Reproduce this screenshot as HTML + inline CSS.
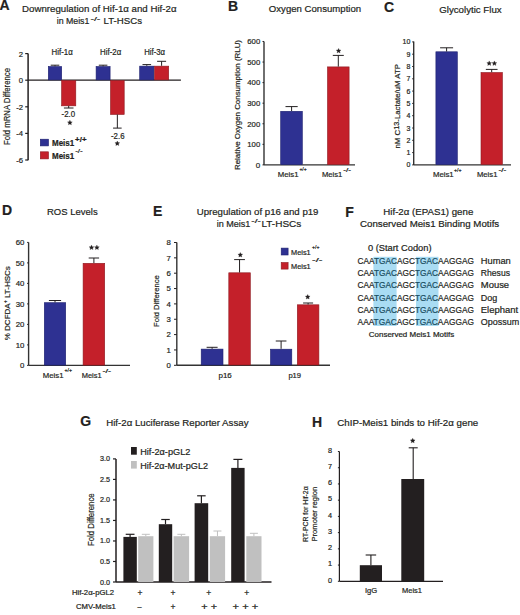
<!DOCTYPE html>
<html><head><meta charset="utf-8"><style>
html,body{margin:0;padding:0;background:#fff;}
svg{display:block;}
text{font-family:"Liberation Sans",sans-serif;stroke:#231f20;stroke-width:0.2px;paint-order:stroke;}
</style></head><body>
<svg width="520" height="615" viewBox="0 0 520 615">
<rect width="520" height="615" fill="#fff"/>
<text x="-0.45" y="10.2" font-size="14" font-weight="bold" fill="#231f20">A</text>
<text x="22" y="12.2" font-size="9.5" textLength="154.5" lengthAdjust="spacingAndGlyphs" fill="#231f20">Downregulation of Hif-1α and Hif-2α</text>
<text x="56.7" y="23.9" font-size="9.5" textLength="32.7" lengthAdjust="spacingAndGlyphs" fill="#231f20">in Meis1</text>
<text x="90.4" y="20.6" font-size="5.5" textLength="10" lengthAdjust="spacingAndGlyphs" fill="#231f20">-/-</text>
<text x="103.6" y="23.9" font-size="9.5" textLength="38.4" lengthAdjust="spacingAndGlyphs" fill="#231f20">LT-HSCs</text>
<line x1="28.1" y1="53.6" x2="28.1" y2="160.2" stroke="#231f20" stroke-width="1.5"/>
<line x1="25.2" y1="53.6" x2="28.1" y2="53.6" stroke="#231f20" stroke-width="1.2"/>
<text x="23" y="56.6" font-size="7.7" text-anchor="end" fill="#231f20">2</text>
<line x1="25.2" y1="80.2" x2="28.1" y2="80.2" stroke="#231f20" stroke-width="1.2"/>
<text x="23" y="83.2" font-size="7.7" text-anchor="end" fill="#231f20">0</text>
<line x1="25.2" y1="106.8" x2="28.1" y2="106.8" stroke="#231f20" stroke-width="1.2"/>
<text x="23" y="109.8" font-size="7.7" text-anchor="end" fill="#231f20">-2</text>
<line x1="25.2" y1="133.4" x2="28.1" y2="133.4" stroke="#231f20" stroke-width="1.2"/>
<text x="23" y="136.4" font-size="7.7" text-anchor="end" fill="#231f20">-4</text>
<line x1="25.2" y1="160.0" x2="28.1" y2="160.0" stroke="#231f20" stroke-width="1.2"/>
<text x="23" y="163.0" font-size="7.7" text-anchor="end" fill="#231f20">-6</text>
<line x1="28.1" y1="80.2" x2="180.9" y2="80.2" stroke="#231f20" stroke-width="1.3"/>
<rect x="48.3" y="66.53" width="13.4" height="13.37" fill="#2e3192" stroke="#1c1f6e" stroke-width="0.6"/>
<rect x="61.6" y="80.5" width="14.2" height="25.34" fill="#c4202a" stroke="#8e1a20" stroke-width="0.6"/>
<rect x="96.1" y="66.53" width="14.0" height="13.37" fill="#2e3192" stroke="#1c1f6e" stroke-width="0.6"/>
<rect x="110.5" y="80.5" width="13.7" height="33.98" fill="#c4202a" stroke="#8e1a20" stroke-width="0.6"/>
<rect x="139.7" y="66.14" width="14.2" height="13.76" fill="#2e3192" stroke="#1c1f6e" stroke-width="0.6"/>
<rect x="154.5" y="66.14" width="14.2" height="13.76" fill="#c4202a" stroke="#8e1a20" stroke-width="0.6"/>
<line x1="55.0" y1="66.3" x2="55.0" y2="65.2" stroke="#231f20" stroke-width="1.0"/>
<line x1="50.7" y1="65.2" x2="59.3" y2="65.2" stroke="#231f20" stroke-width="1.0"/>
<line x1="68.7" y1="105.9" x2="68.7" y2="108" stroke="#231f20" stroke-width="1.0"/>
<line x1="63.9" y1="108" x2="73.5" y2="108" stroke="#231f20" stroke-width="1.0"/>
<line x1="103.1" y1="66.3" x2="103.1" y2="65.2" stroke="#231f20" stroke-width="1.0"/>
<line x1="98.8" y1="65.2" x2="107.4" y2="65.2" stroke="#231f20" stroke-width="1.0"/>
<line x1="117.35" y1="114.5" x2="117.35" y2="128.1" stroke="#231f20" stroke-width="1.0"/>
<line x1="113.05" y1="128.1" x2="121.65" y2="128.1" stroke="#231f20" stroke-width="1.0"/>
<line x1="146.8" y1="65.8" x2="146.8" y2="64.6" stroke="#231f20" stroke-width="1.0"/>
<line x1="142.5" y1="64.6" x2="151.1" y2="64.6" stroke="#231f20" stroke-width="1.0"/>
<line x1="161.6" y1="65.8" x2="161.6" y2="61.3" stroke="#231f20" stroke-width="1.0"/>
<line x1="157.1" y1="61.3" x2="166.1" y2="61.3" stroke="#231f20" stroke-width="1.0"/>
<text x="51.6" y="55.1" font-size="8.3" textLength="21.2" lengthAdjust="spacingAndGlyphs" fill="#231f20" stroke-width="0.35">Hif-1α</text>
<text x="100" y="55.1" font-size="8.3" textLength="21.2" lengthAdjust="spacingAndGlyphs" fill="#231f20" stroke-width="0.35">Hif-2α</text>
<text x="144.2" y="55.4" font-size="8.3" textLength="20.9" lengthAdjust="spacingAndGlyphs" fill="#231f20" stroke-width="0.35">Hif-3α</text>
<text x="61.6" y="116.7" font-size="8.2" textLength="13.6" lengthAdjust="spacingAndGlyphs" fill="#231f20">-2.0</text>
<polygon points="69.90,120.20 70.61,121.73 72.28,121.93 71.04,123.07 71.37,124.72 69.90,123.90 68.43,124.72 68.76,123.07 67.52,121.93 69.19,121.73" fill="#231f20" stroke="#231f20" stroke-width="0.3"/>
<text x="111" y="138.6" font-size="8.2" textLength="13.5" lengthAdjust="spacingAndGlyphs" fill="#231f20">-2.6</text>
<polygon points="117.30,141.00 118.01,142.53 119.68,142.73 118.44,143.87 118.77,145.52 117.30,144.70 115.83,145.52 116.16,143.87 114.92,142.73 116.59,142.53" fill="#231f20" stroke="#231f20" stroke-width="0.3"/>
<rect x="40.3" y="139.2" width="8.2" height="6.7" fill="#2e3192" stroke="#1c1f6e" stroke-width="0.6"/>
<rect x="40.3" y="151.8" width="8.2" height="7.1" fill="#c4202a" stroke="#8e1a20" stroke-width="0.6"/>
<text x="52" y="145.8" font-size="8.3" font-weight="bold" textLength="22.2" lengthAdjust="spacingAndGlyphs" fill="#231f20">Meis1</text>
<text x="75.1" y="142.4" font-size="6.3" font-weight="bold" textLength="11.4" lengthAdjust="spacingAndGlyphs" fill="#231f20">+/+</text>
<text x="52" y="159.1" font-size="8.3" font-weight="bold" textLength="22.2" lengthAdjust="spacingAndGlyphs" fill="#231f20">Meis1</text>
<text x="75.2" y="153.2" font-size="5.5" textLength="7.6" lengthAdjust="spacingAndGlyphs" fill="#231f20">-/-</text>
<text transform="translate(10.2,106.5) rotate(-90)" x="0" y="0" font-size="8.5" stroke-width="0.08" text-anchor="middle" textLength="77" lengthAdjust="spacingAndGlyphs" fill="#231f20">Fold mRNA Difference</text>
<text x="227.9" y="10.8" font-size="14" font-weight="bold" fill="#231f20">B</text>
<text x="268.8" y="12.0" font-size="9.6" textLength="92.4" lengthAdjust="spacingAndGlyphs" fill="#231f20">Oxygen Consumption</text>
<line x1="264" y1="41.5" x2="264" y2="164.9" stroke="#333" stroke-width="1.4"/>
<line x1="262.5" y1="164.9" x2="264" y2="164.9" stroke="#231f20" stroke-width="1"/>
<text x="260.2" y="167.7" font-size="8" text-anchor="end" fill="#231f20">0</text>
<line x1="262.5" y1="144.33" x2="264" y2="144.33" stroke="#231f20" stroke-width="1"/>
<text x="260.2" y="147.13" font-size="8" text-anchor="end" textLength="12.9" lengthAdjust="spacingAndGlyphs" fill="#231f20">100</text>
<line x1="262.5" y1="123.76" x2="264" y2="123.76" stroke="#231f20" stroke-width="1"/>
<text x="260.2" y="126.56" font-size="8" text-anchor="end" textLength="12.9" lengthAdjust="spacingAndGlyphs" fill="#231f20">200</text>
<line x1="262.5" y1="103.19" x2="264" y2="103.19" stroke="#231f20" stroke-width="1"/>
<text x="260.2" y="105.99" font-size="8" text-anchor="end" textLength="12.9" lengthAdjust="spacingAndGlyphs" fill="#231f20">300</text>
<line x1="262.5" y1="82.62" x2="264" y2="82.62" stroke="#231f20" stroke-width="1"/>
<text x="260.2" y="85.42" font-size="8" text-anchor="end" textLength="12.9" lengthAdjust="spacingAndGlyphs" fill="#231f20">400</text>
<line x1="262.5" y1="62.05" x2="264" y2="62.05" stroke="#231f20" stroke-width="1"/>
<text x="260.2" y="64.85" font-size="8" text-anchor="end" textLength="12.9" lengthAdjust="spacingAndGlyphs" fill="#231f20">500</text>
<line x1="262.5" y1="41.48" x2="264" y2="41.48" stroke="#231f20" stroke-width="1"/>
<text x="260.2" y="44.28" font-size="8" text-anchor="end" textLength="12.9" lengthAdjust="spacingAndGlyphs" fill="#231f20">600</text>
<line x1="264" y1="164.9" x2="355" y2="164.9" stroke="#333" stroke-width="1.4"/>
<rect x="280.7" y="111.3" width="21.6" height="53.3" fill="#2e3192" stroke="#1c1f6e" stroke-width="0.6"/>
<line x1="291.6" y1="111" x2="291.6" y2="106.6" stroke="#231f20" stroke-width="1.0"/>
<line x1="285.5" y1="106.6" x2="297.7" y2="106.6" stroke="#231f20" stroke-width="1.0"/>
<rect x="327.5" y="66.9" width="21.6" height="97.7" fill="#c4202a" stroke="#8e1a20" stroke-width="0.6"/>
<line x1="338.3" y1="66.6" x2="338.3" y2="55.4" stroke="#231f20" stroke-width="1.0"/>
<line x1="332.8" y1="55.4" x2="343.8" y2="55.4" stroke="#231f20" stroke-width="1.0"/>
<polygon points="338.60,48.40 339.31,49.93 340.98,50.13 339.74,51.27 340.07,52.92 338.60,52.10 337.13,52.92 337.46,51.27 336.22,50.13 337.89,49.93" fill="#231f20" stroke="#231f20" stroke-width="0.3"/>
<text x="277.8" y="177.3" font-size="7.8" textLength="20.7" lengthAdjust="spacingAndGlyphs" fill="#231f20">Meis1</text>
<text x="299.4" y="171.3" font-size="4.6" textLength="7.3" lengthAdjust="spacingAndGlyphs" fill="#231f20">+/+</text>
<text x="321.9" y="177.3" font-size="7.8" textLength="20.4" lengthAdjust="spacingAndGlyphs" fill="#231f20">Meis1</text>
<text x="343.2" y="171.6" font-size="4.6" textLength="7.8" lengthAdjust="spacingAndGlyphs" fill="#231f20">-/-</text>
<text transform="translate(239.8,105) rotate(-90)" x="0" y="0" font-size="7.8" text-anchor="middle" textLength="130" lengthAdjust="spacingAndGlyphs" fill="#231f20">Relative Oxygen Consumption (RLU)</text>
<text x="384.1" y="11.6" font-size="14" font-weight="bold" fill="#231f20">C</text>
<text x="439.2" y="12.9" font-size="9.5" textLength="62.5" lengthAdjust="spacingAndGlyphs" fill="#231f20">Glycolytic Flux</text>
<line x1="413.7" y1="41.5" x2="413.7" y2="164.9" stroke="#333" stroke-width="1.4"/>
<line x1="412.2" y1="164.9" x2="413.7" y2="164.9" stroke="#231f20" stroke-width="1"/>
<text x="410.3" y="167.4" font-size="7" text-anchor="end" fill="#231f20">0</text>
<line x1="412.2" y1="152.6" x2="413.7" y2="152.6" stroke="#231f20" stroke-width="1"/>
<text x="410.3" y="155.1" font-size="7" text-anchor="end" fill="#231f20">1</text>
<line x1="412.2" y1="140.3" x2="413.7" y2="140.3" stroke="#231f20" stroke-width="1"/>
<text x="410.3" y="142.8" font-size="7" text-anchor="end" fill="#231f20">2</text>
<line x1="412.2" y1="128.0" x2="413.7" y2="128.0" stroke="#231f20" stroke-width="1"/>
<text x="410.3" y="130.5" font-size="7" text-anchor="end" fill="#231f20">3</text>
<line x1="412.2" y1="115.7" x2="413.7" y2="115.7" stroke="#231f20" stroke-width="1"/>
<text x="410.3" y="118.2" font-size="7" text-anchor="end" fill="#231f20">4</text>
<line x1="412.2" y1="103.4" x2="413.7" y2="103.4" stroke="#231f20" stroke-width="1"/>
<text x="410.3" y="105.9" font-size="7" text-anchor="end" fill="#231f20">5</text>
<line x1="412.2" y1="91.1" x2="413.7" y2="91.1" stroke="#231f20" stroke-width="1"/>
<text x="410.3" y="93.6" font-size="7" text-anchor="end" fill="#231f20">6</text>
<line x1="412.2" y1="78.8" x2="413.7" y2="78.8" stroke="#231f20" stroke-width="1"/>
<text x="410.3" y="81.3" font-size="7" text-anchor="end" fill="#231f20">7</text>
<line x1="412.2" y1="66.5" x2="413.7" y2="66.5" stroke="#231f20" stroke-width="1"/>
<text x="410.3" y="69.0" font-size="7" text-anchor="end" fill="#231f20">8</text>
<line x1="412.2" y1="54.2" x2="413.7" y2="54.2" stroke="#231f20" stroke-width="1"/>
<text x="410.3" y="56.7" font-size="7" text-anchor="end" fill="#231f20">9</text>
<line x1="412.2" y1="41.9" x2="413.7" y2="41.9" stroke="#231f20" stroke-width="1"/>
<text x="410.3" y="44.4" font-size="7" text-anchor="end" fill="#231f20">10</text>
<line x1="413.7" y1="164.9" x2="511" y2="164.9" stroke="#333" stroke-width="1.4"/>
<rect x="435.9" y="51.8" width="21.4" height="112.8" fill="#2e3192" stroke="#1c1f6e" stroke-width="0.6"/>
<line x1="446.6" y1="51.5" x2="446.6" y2="47.8" stroke="#231f20" stroke-width="1.0"/>
<line x1="440.1" y1="47.8" x2="453.1" y2="47.8" stroke="#231f20" stroke-width="1.0"/>
<rect x="481.0" y="72.5" width="21.4" height="92.1" fill="#c4202a" stroke="#8e1a20" stroke-width="0.6"/>
<line x1="491.7" y1="72.2" x2="491.7" y2="69.4" stroke="#231f20" stroke-width="1.0"/>
<line x1="485.85" y1="69.4" x2="497.55" y2="69.4" stroke="#231f20" stroke-width="1.0"/>
<polygon points="489.20,60.90 489.91,62.43 491.58,62.63 490.34,63.77 490.67,65.42 489.20,64.60 487.73,65.42 488.06,63.77 486.82,62.63 488.49,62.43" fill="#231f20" stroke="#231f20" stroke-width="0.3"/>
<polygon points="494.40,60.90 495.11,62.43 496.78,62.63 495.54,63.77 495.87,65.42 494.40,64.60 492.93,65.42 493.26,63.77 492.02,62.63 493.69,62.43" fill="#231f20" stroke="#231f20" stroke-width="0.3"/>
<text x="433" y="177.3" font-size="7.8" textLength="20.7" lengthAdjust="spacingAndGlyphs" fill="#231f20">Meis1</text>
<text x="454" y="171.5" font-size="4.6" textLength="7.6" lengthAdjust="spacingAndGlyphs" fill="#231f20">+/+</text>
<text x="477" y="177.3" font-size="7.8" textLength="20.4" lengthAdjust="spacingAndGlyphs" fill="#231f20">Meis1</text>
<text x="498.5" y="172" font-size="4.6" textLength="7.8" lengthAdjust="spacingAndGlyphs" fill="#231f20">-/-</text>
<text transform="translate(400.2,106.3) rotate(-90)" font-size="7.5" text-anchor="middle" textLength="84.5" lengthAdjust="spacingAndGlyphs" fill="#231f20">nM C<tspan font-size="7" dy="-1.6">13</tspan><tspan dy="1.6">-Lactate/uM ATP</tspan></text>
<text x="2.1" y="215.1" font-size="14" font-weight="bold" fill="#231f20">D</text>
<text x="47" y="214.7" font-size="9.8" textLength="50.7" lengthAdjust="spacingAndGlyphs" fill="#231f20">ROS Levels</text>
<line x1="28.6" y1="242.4" x2="28.6" y2="365.4" stroke="#333" stroke-width="1.4"/>
<line x1="27.1" y1="365.4" x2="28.6" y2="365.4" stroke="#231f20" stroke-width="1"/>
<text x="24.4" y="368.2" font-size="7.8" text-anchor="end" fill="#231f20">0</text>
<line x1="27.1" y1="344.9" x2="28.6" y2="344.9" stroke="#231f20" stroke-width="1"/>
<text x="24.4" y="347.7" font-size="7.8" text-anchor="end" fill="#231f20">10</text>
<line x1="27.1" y1="324.4" x2="28.6" y2="324.4" stroke="#231f20" stroke-width="1"/>
<text x="24.4" y="327.2" font-size="7.8" text-anchor="end" fill="#231f20">20</text>
<line x1="27.1" y1="303.9" x2="28.6" y2="303.9" stroke="#231f20" stroke-width="1"/>
<text x="24.4" y="306.7" font-size="7.8" text-anchor="end" fill="#231f20">30</text>
<line x1="27.1" y1="283.4" x2="28.6" y2="283.4" stroke="#231f20" stroke-width="1"/>
<text x="24.4" y="286.2" font-size="7.8" text-anchor="end" fill="#231f20">40</text>
<line x1="27.1" y1="262.9" x2="28.6" y2="262.9" stroke="#231f20" stroke-width="1"/>
<text x="24.4" y="265.7" font-size="7.8" text-anchor="end" fill="#231f20">50</text>
<line x1="27.1" y1="242.4" x2="28.6" y2="242.4" stroke="#231f20" stroke-width="1"/>
<text x="24.4" y="245.2" font-size="7.8" text-anchor="end" fill="#231f20">60</text>
<line x1="28.6" y1="365.4" x2="130" y2="365.4" stroke="#333" stroke-width="1.4"/>
<rect x="44.3" y="302.7" width="21.4" height="62.4" fill="#2e3192" stroke="#1c1f6e" stroke-width="0.6"/>
<line x1="55" y1="302.4" x2="55" y2="300.5" stroke="#231f20" stroke-width="1.0"/>
<line x1="48.9" y1="300.5" x2="61.1" y2="300.5" stroke="#231f20" stroke-width="1.0"/>
<rect x="83.1" y="263.3" width="21.6" height="101.8" fill="#c4202a" stroke="#8e1a20" stroke-width="0.6"/>
<line x1="93.9" y1="263" x2="93.9" y2="258" stroke="#231f20" stroke-width="1.0"/>
<line x1="88.7" y1="258" x2="99.1" y2="258" stroke="#231f20" stroke-width="1.0"/>
<polygon points="91.50,245.10 92.21,246.63 93.88,246.83 92.64,247.97 92.97,249.62 91.50,248.80 90.03,249.62 90.36,247.97 89.12,246.83 90.79,246.63" fill="#231f20" stroke="#231f20" stroke-width="0.3"/>
<polygon points="96.90,245.10 97.61,246.63 99.28,246.83 98.04,247.97 98.37,249.62 96.90,248.80 95.43,249.62 95.76,247.97 94.52,246.83 96.19,246.63" fill="#231f20" stroke="#231f20" stroke-width="0.3"/>
<text x="42.8" y="377.6" font-size="7.8" textLength="20.7" lengthAdjust="spacingAndGlyphs" fill="#231f20">Meis1</text>
<text x="64.4" y="371.6" font-size="4.6" textLength="7.6" lengthAdjust="spacingAndGlyphs" fill="#231f20">+/+</text>
<text x="81.7" y="377.6" font-size="7.8" textLength="19.9" lengthAdjust="spacingAndGlyphs" fill="#231f20">Meis1</text>
<text x="102.5" y="372.5" font-size="4.6" textLength="8.6" lengthAdjust="spacingAndGlyphs" fill="#231f20">-/-</text>
<text transform="translate(9.8,303.2) rotate(-90)" font-size="7.7" text-anchor="middle" textLength="74.2" lengthAdjust="spacingAndGlyphs" fill="#231f20">% DCFDA<tspan font-size="5" dy="-3">+</tspan><tspan dy="3"> LT-HSCs</tspan></text>
<text x="153" y="215.8" font-size="14" font-weight="bold" fill="#231f20">E</text>
<text x="196.7" y="215" font-size="9.5" textLength="121.8" lengthAdjust="spacingAndGlyphs" fill="#231f20">Upregulation of p16 and p19</text>
<text x="216.7" y="227" font-size="9.5" textLength="33.7" lengthAdjust="spacingAndGlyphs" fill="#231f20">in Meis1</text>
<text x="251.3" y="223" font-size="4.8" textLength="9.5" lengthAdjust="spacingAndGlyphs" fill="#231f20">-/-</text>
<text x="261.5" y="227" font-size="9.5" textLength="39.8" lengthAdjust="spacingAndGlyphs" fill="#231f20">LT-HSCs</text>
<line x1="176.8" y1="242.5" x2="176.8" y2="365.3" stroke="#333" stroke-width="1.4"/>
<line x1="174.0" y1="365.3" x2="176.8" y2="365.3" stroke="#231f20" stroke-width="1"/>
<text x="170.9" y="368.1" font-size="7.8" text-anchor="end" fill="#231f20" stroke-width="0.05">0</text>
<line x1="174.0" y1="349.95" x2="176.8" y2="349.95" stroke="#231f20" stroke-width="1"/>
<text x="170.9" y="352.75" font-size="7.8" text-anchor="end" fill="#231f20" stroke-width="0.05">1</text>
<line x1="174.0" y1="334.6" x2="176.8" y2="334.6" stroke="#231f20" stroke-width="1"/>
<text x="170.9" y="337.4" font-size="7.8" text-anchor="end" fill="#231f20" stroke-width="0.05">2</text>
<line x1="174.0" y1="319.25" x2="176.8" y2="319.25" stroke="#231f20" stroke-width="1"/>
<text x="170.9" y="322.05" font-size="7.8" text-anchor="end" fill="#231f20" stroke-width="0.05">3</text>
<line x1="174.0" y1="303.9" x2="176.8" y2="303.9" stroke="#231f20" stroke-width="1"/>
<text x="170.9" y="306.7" font-size="7.8" text-anchor="end" fill="#231f20" stroke-width="0.05">4</text>
<line x1="174.0" y1="288.55" x2="176.8" y2="288.55" stroke="#231f20" stroke-width="1"/>
<text x="170.9" y="291.35" font-size="7.8" text-anchor="end" fill="#231f20" stroke-width="0.05">5</text>
<line x1="174.0" y1="273.2" x2="176.8" y2="273.2" stroke="#231f20" stroke-width="1"/>
<text x="170.9" y="276.0" font-size="7.8" text-anchor="end" fill="#231f20" stroke-width="0.05">6</text>
<line x1="174.0" y1="257.85" x2="176.8" y2="257.85" stroke="#231f20" stroke-width="1"/>
<text x="170.9" y="260.65" font-size="7.8" text-anchor="end" fill="#231f20" stroke-width="0.05">7</text>
<line x1="174.0" y1="242.5" x2="176.8" y2="242.5" stroke="#231f20" stroke-width="1"/>
<text x="170.9" y="245.3" font-size="7.8" text-anchor="end" fill="#231f20" stroke-width="0.05">8</text>
<line x1="176.8" y1="365.3" x2="330" y2="365.3" stroke="#333" stroke-width="1.4"/>
<rect x="201.2" y="349.1" width="21.8" height="15.9" fill="#2e3192" stroke="#1c1f6e" stroke-width="0.6"/>
<line x1="212.1" y1="348.8" x2="212.1" y2="347.3" stroke="#231f20" stroke-width="1.0"/>
<line x1="206.6" y1="347.3" x2="217.6" y2="347.3" stroke="#231f20" stroke-width="1.0"/>
<rect x="228.8" y="272.8" width="21.5" height="92.2" fill="#c4202a" stroke="#8e1a20" stroke-width="0.6"/>
<line x1="239.55" y1="272.5" x2="239.55" y2="259.6" stroke="#231f20" stroke-width="1.0"/>
<line x1="234.15" y1="259.6" x2="244.95" y2="259.6" stroke="#231f20" stroke-width="1.0"/>
<polygon points="240.30,252.50 241.01,254.03 242.68,254.23 241.44,255.37 241.77,257.02 240.30,256.20 238.83,257.02 239.16,255.37 237.92,254.23 239.59,254.03" fill="#231f20" stroke="#231f20" stroke-width="0.3"/>
<rect x="270.5" y="349.2" width="21.3" height="15.8" fill="#2e3192" stroke="#1c1f6e" stroke-width="0.6"/>
<line x1="281.1" y1="348.8" x2="281.1" y2="341" stroke="#231f20" stroke-width="1.0"/>
<line x1="275.75" y1="341" x2="286.45" y2="341" stroke="#231f20" stroke-width="1.0"/>
<rect x="297.3" y="304.8" width="21.6" height="60.2" fill="#c4202a" stroke="#8e1a20" stroke-width="0.6"/>
<line x1="308.1" y1="304.5" x2="308.1" y2="303" stroke="#231f20" stroke-width="1.0"/>
<line x1="303.1" y1="303" x2="313.1" y2="303" stroke="#231f20" stroke-width="1.0"/>
<polygon points="307.70,294.50 308.41,296.03 310.08,296.23 308.84,297.37 309.17,299.02 307.70,298.20 306.23,299.02 306.56,297.37 305.32,296.23 306.99,296.03" fill="#231f20" stroke="#231f20" stroke-width="0.3"/>
<text x="218.5" y="377.5" font-size="7.8" textLength="13.3" lengthAdjust="spacingAndGlyphs" fill="#231f20">p16</text>
<text x="288.4" y="377.5" font-size="7.8" textLength="12.7" lengthAdjust="spacingAndGlyphs" fill="#231f20">p19</text>
<rect x="281.2" y="248.1" width="6.9" height="6.9" fill="#2e3192" stroke="#1c1f6e" stroke-width="0.6"/>
<rect x="281.2" y="262.5" width="6.9" height="6.6" fill="#c4202a" stroke="#8e1a20" stroke-width="0.6"/>
<text x="291" y="255" font-size="7.8" textLength="19.7" lengthAdjust="spacingAndGlyphs" fill="#231f20" stroke-width="0.45">Meis1</text>
<text x="312.1" y="248.8" font-size="4.6" textLength="7.4" lengthAdjust="spacingAndGlyphs" fill="#231f20">+/+</text>
<text x="291" y="269.2" font-size="7.8" textLength="19.7" lengthAdjust="spacingAndGlyphs" fill="#231f20" stroke-width="0.45">Meis1</text>
<text x="312.1" y="262.2" font-size="4.6" textLength="10.3" lengthAdjust="spacingAndGlyphs" fill="#231f20">-/-</text>
<text transform="translate(159.3,301.1) rotate(-90)" x="0" y="0" font-size="8" text-anchor="middle" textLength="51.8" lengthAdjust="spacingAndGlyphs" fill="#231f20">Fold Difference</text>
<text x="345.3" y="216.8" font-size="14" font-weight="bold" fill="#231f20">F</text>
<text x="383.3" y="215.0" font-size="9.2" textLength="90" lengthAdjust="spacingAndGlyphs" fill="#231f20">Hif-2α (EPAS1) gene</text>
<text x="360" y="227.0" font-size="9.2" textLength="139.2" lengthAdjust="spacingAndGlyphs" fill="#231f20">Conserved Meis1 Binding Motifs</text>
<text x="368" y="251.2" font-size="8.5" textLength="63.5" lengthAdjust="spacingAndGlyphs" fill="#231f20">0 (Start Codon)</text>
<rect x="373.4" y="256.8" width="23.2" height="69.2" fill="#a9dcf3"/>
<rect x="416" y="256.8" width="22.5" height="69.2" fill="#a9dcf3"/>
<text x="357.6" y="263.7" font-size="9" textLength="116.3" lengthAdjust="spacingAndGlyphs" fill="#231f20" stroke-width="0.3">CAA<tspan fill="#174b5e" stroke="#174b5e">TGAC</tspan>AGC<tspan fill="#174b5e" stroke="#174b5e">TGAC</tspan>AAGGAG</text>
<text x="480.8" y="263.7" font-size="9" textLength="30" lengthAdjust="spacingAndGlyphs" fill="#231f20" stroke-width="0.3">Human</text>
<text x="357.6" y="276.0" font-size="9" textLength="116.3" lengthAdjust="spacingAndGlyphs" fill="#231f20" stroke-width="0.3">CAA<tspan fill="#174b5e" stroke="#174b5e">TGAC</tspan>AGC<tspan fill="#174b5e" stroke="#174b5e">TGAC</tspan>AAGGAG</text>
<text x="480.8" y="276.0" font-size="9" textLength="29.2" lengthAdjust="spacingAndGlyphs" fill="#231f20" stroke-width="0.3">Rhesus</text>
<text x="357.6" y="288.3" font-size="9" textLength="116.3" lengthAdjust="spacingAndGlyphs" fill="#231f20" stroke-width="0.3">CAA<tspan fill="#174b5e" stroke="#174b5e">TGAC</tspan>AGC<tspan fill="#174b5e" stroke="#174b5e">TGAC</tspan>AAGGAG</text>
<text x="480.8" y="288.3" font-size="9" textLength="28.3" lengthAdjust="spacingAndGlyphs" fill="#231f20" stroke-width="0.3">Mouse</text>
<text x="357.6" y="300.6" font-size="9" textLength="116.3" lengthAdjust="spacingAndGlyphs" fill="#231f20" stroke-width="0.3">CAA<tspan fill="#174b5e" stroke="#174b5e">TGAC</tspan>AGC<tspan fill="#174b5e" stroke="#174b5e">TGAC</tspan>AAGGAG</text>
<text x="480.8" y="300.6" font-size="9" textLength="16.5" lengthAdjust="spacingAndGlyphs" fill="#231f20" stroke-width="0.3">Dog</text>
<text x="357.6" y="312.9" font-size="9" textLength="116.3" lengthAdjust="spacingAndGlyphs" fill="#231f20" stroke-width="0.3">CAA<tspan fill="#174b5e" stroke="#174b5e">TGAC</tspan>AGC<tspan fill="#174b5e" stroke="#174b5e">TGAC</tspan>AAGGAG</text>
<text x="480.8" y="312.9" font-size="9" textLength="37.4" lengthAdjust="spacingAndGlyphs" fill="#231f20" stroke-width="0.3">Elephant</text>
<text x="357.6" y="325.2" font-size="9" textLength="116.3" lengthAdjust="spacingAndGlyphs" fill="#231f20" stroke-width="0.3">AAA<tspan fill="#174b5e" stroke="#174b5e">TGAC</tspan>AGC<tspan fill="#174b5e" stroke="#174b5e">TGAC</tspan>AAGGAG</text>
<text x="480.8" y="325.2" font-size="9" textLength="38.4" lengthAdjust="spacingAndGlyphs" fill="#231f20" stroke-width="0.3">Opossum</text>
<text x="368.8" y="337.4" font-size="7" textLength="85.4" lengthAdjust="spacingAndGlyphs" fill="#231f20">Conserved Meis1 Motifs</text>
<text x="80.3" y="426.1" font-size="14" font-weight="bold" fill="#231f20">G</text>
<text x="106.2" y="425.9" font-size="9.3" textLength="142.3" lengthAdjust="spacingAndGlyphs" fill="#231f20" stroke-width="0.1">Hif-2α Luciferase Reporter Assay</text>
<line x1="116" y1="458.9" x2="116" y2="582.0" stroke="#231f20" stroke-width="1.5"/>
<line x1="113" y1="582.0" x2="116" y2="582.0" stroke="#231f20" stroke-width="1.2"/>
<text x="110.0" y="584.5" font-size="7.0" text-anchor="end" textLength="10" lengthAdjust="spacingAndGlyphs" fill="#231f20">0.0</text>
<line x1="113" y1="561.48" x2="116" y2="561.48" stroke="#231f20" stroke-width="1.2"/>
<text x="110.0" y="563.98" font-size="7.0" text-anchor="end" textLength="10" lengthAdjust="spacingAndGlyphs" fill="#231f20">0.5</text>
<line x1="113" y1="540.97" x2="116" y2="540.97" stroke="#231f20" stroke-width="1.2"/>
<text x="110.0" y="543.47" font-size="7.0" text-anchor="end" textLength="10" lengthAdjust="spacingAndGlyphs" fill="#231f20">1.0</text>
<line x1="113" y1="520.45" x2="116" y2="520.45" stroke="#231f20" stroke-width="1.2"/>
<text x="110.0" y="522.95" font-size="7.0" text-anchor="end" textLength="10" lengthAdjust="spacingAndGlyphs" fill="#231f20">1.5</text>
<line x1="113" y1="499.93" x2="116" y2="499.93" stroke="#231f20" stroke-width="1.2"/>
<text x="110.0" y="502.43" font-size="7.0" text-anchor="end" textLength="10" lengthAdjust="spacingAndGlyphs" fill="#231f20">2.0</text>
<line x1="113" y1="479.42" x2="116" y2="479.42" stroke="#231f20" stroke-width="1.2"/>
<text x="110.0" y="481.92" font-size="7.0" text-anchor="end" textLength="10" lengthAdjust="spacingAndGlyphs" fill="#231f20">2.5</text>
<line x1="113" y1="458.9" x2="116" y2="458.9" stroke="#231f20" stroke-width="1.2"/>
<text x="110.0" y="461.4" font-size="7.0" text-anchor="end" textLength="10" lengthAdjust="spacingAndGlyphs" fill="#231f20">3.0</text>
<line x1="116" y1="582.0" x2="271.5" y2="582.0" stroke="#231f20" stroke-width="1.5"/>
<rect x="123.4" y="536.9" width="13.4" height="45.1" fill="#231f20"/>
<rect x="138.2" y="536.2" width="15.2" height="45.8" fill="#c0c0c0"/>
<rect x="158.8" y="524.2" width="13.4" height="57.8" fill="#231f20"/>
<rect x="173.6" y="536.2" width="15.5" height="45.8" fill="#c0c0c0"/>
<rect x="194.6" y="503.2" width="13.6" height="78.8" fill="#231f20"/>
<rect x="209.8" y="536.2" width="15.3" height="45.8" fill="#c0c0c0"/>
<rect x="231.2" y="467.9" width="13.4" height="114.1" fill="#231f20"/>
<rect x="246.3" y="536.2" width="15.2" height="45.8" fill="#c0c0c0"/>
<line x1="130.1" y1="536.9" x2="130.1" y2="534.3" stroke="#231f20" stroke-width="1.2"/>
<line x1="125.7" y1="534.3" x2="134.5" y2="534.3" stroke="#231f20" stroke-width="1.2"/>
<line x1="145.8" y1="536.2" x2="145.8" y2="534.3" stroke="#c0c0c0" stroke-width="1.0"/>
<line x1="141.8" y1="534.3" x2="149.8" y2="534.3" stroke="#c0c0c0" stroke-width="1.0"/>
<line x1="165.5" y1="524.2" x2="165.5" y2="519.5" stroke="#231f20" stroke-width="1.2"/>
<line x1="161.25" y1="519.5" x2="169.75" y2="519.5" stroke="#231f20" stroke-width="1.2"/>
<line x1="181.35" y1="536.2" x2="181.35" y2="534.3" stroke="#c0c0c0" stroke-width="1.0"/>
<line x1="177.35" y1="534.3" x2="185.35" y2="534.3" stroke="#c0c0c0" stroke-width="1.0"/>
<line x1="201.4" y1="503.2" x2="201.4" y2="495.8" stroke="#231f20" stroke-width="1.2"/>
<line x1="197.15" y1="495.8" x2="205.65" y2="495.8" stroke="#231f20" stroke-width="1.2"/>
<line x1="217.45" y1="536.2" x2="217.45" y2="531" stroke="#c0c0c0" stroke-width="1.0"/>
<line x1="213.45" y1="531" x2="221.45" y2="531" stroke="#c0c0c0" stroke-width="1.0"/>
<line x1="237.9" y1="467.9" x2="237.9" y2="459.4" stroke="#231f20" stroke-width="1.2"/>
<line x1="233.4" y1="459.4" x2="242.4" y2="459.4" stroke="#231f20" stroke-width="1.2"/>
<line x1="253.9" y1="536.2" x2="253.9" y2="533.3" stroke="#c0c0c0" stroke-width="1.0"/>
<line x1="249.9" y1="533.3" x2="257.9" y2="533.3" stroke="#c0c0c0" stroke-width="1.0"/>
<rect x="131" y="447" width="5.8" height="7.7" fill="#231f20"/>
<rect x="131" y="461" width="5.8" height="7.6" fill="#c0c0c0"/>
<text x="140.2" y="455.3" font-size="9" textLength="50.2" lengthAdjust="spacingAndGlyphs" fill="#231f20">Hif-2α-pGL2</text>
<text x="140.2" y="468.6" font-size="9" textLength="67.8" lengthAdjust="spacingAndGlyphs" fill="#231f20">Hif-2α-Mut-pGL2</text>
<text x="71.9" y="595.1" font-size="6.9" textLength="42.1" lengthAdjust="spacingAndGlyphs" fill="#231f20">Hif-2α-pGL2</text>
<text x="76" y="609.3" font-size="6.9" textLength="39.8" lengthAdjust="spacingAndGlyphs" fill="#231f20">CMV-Meis1</text>
<text x="140" y="596" font-size="8.5" text-anchor="middle" fill="#231f20">+</text>
<text x="173" y="596" font-size="8.5" text-anchor="middle" fill="#231f20">+</text>
<text x="208.8" y="596" font-size="8.5" text-anchor="middle" fill="#231f20">+</text>
<text x="246.8" y="596" font-size="8.5" text-anchor="middle" fill="#231f20">+</text>
<text x="139.7" y="609.5" font-size="8.5" text-anchor="middle" fill="#231f20">−</text>
<text x="173" y="609.5" font-size="8.5" text-anchor="middle" fill="#231f20">+</text>
<text x="209.2" y="609.5" font-size="8.5" text-anchor="middle" textLength="15.7" lengthAdjust="spacingAndGlyphs" fill="#231f20">+ +</text>
<text x="245.4" y="609.5" font-size="8.5" text-anchor="middle" textLength="25.6" lengthAdjust="spacingAndGlyphs" fill="#231f20">+ + +</text>
<text transform="translate(94.3,519.7) rotate(-90)" x="0" y="0" font-size="8.3" text-anchor="middle" textLength="52.7" lengthAdjust="spacingAndGlyphs" fill="#231f20">Fold Difference</text>
<text x="312.1" y="427.1" font-size="14" font-weight="bold" fill="#231f20">H</text>
<text x="337.3" y="426.3" font-size="9.4" textLength="141" lengthAdjust="spacingAndGlyphs" fill="#231f20" stroke-width="0.1">ChIP-Meis1 binds to Hif-2α gene</text>
<line x1="339.4" y1="451.5" x2="339.4" y2="581.3" stroke="#231f20" stroke-width="1.2"/>
<line x1="337.9" y1="581.3" x2="339.4" y2="581.3" stroke="#231f20" stroke-width="1"/>
<text x="332.1" y="582.5" font-size="7.3" text-anchor="end" fill="#231f20">0</text>
<line x1="337.9" y1="565.07" x2="339.4" y2="565.07" stroke="#231f20" stroke-width="1"/>
<text x="332.1" y="566.27" font-size="7.3" text-anchor="end" fill="#231f20">1</text>
<line x1="337.9" y1="548.85" x2="339.4" y2="548.85" stroke="#231f20" stroke-width="1"/>
<text x="332.1" y="550.05" font-size="7.3" text-anchor="end" fill="#231f20">2</text>
<line x1="337.9" y1="532.62" x2="339.4" y2="532.62" stroke="#231f20" stroke-width="1"/>
<text x="332.1" y="533.83" font-size="7.3" text-anchor="end" fill="#231f20">3</text>
<line x1="337.9" y1="516.4" x2="339.4" y2="516.4" stroke="#231f20" stroke-width="1"/>
<text x="332.1" y="517.6" font-size="7.3" text-anchor="end" fill="#231f20">4</text>
<line x1="337.9" y1="500.17" x2="339.4" y2="500.17" stroke="#231f20" stroke-width="1"/>
<text x="332.1" y="501.37" font-size="7.3" text-anchor="end" fill="#231f20">5</text>
<line x1="337.9" y1="483.95" x2="339.4" y2="483.95" stroke="#231f20" stroke-width="1"/>
<text x="332.1" y="485.15" font-size="7.3" text-anchor="end" fill="#231f20">6</text>
<line x1="337.9" y1="467.73" x2="339.4" y2="467.73" stroke="#231f20" stroke-width="1"/>
<text x="332.1" y="468.93" font-size="7.3" text-anchor="end" fill="#231f20">7</text>
<line x1="337.9" y1="451.5" x2="339.4" y2="451.5" stroke="#231f20" stroke-width="1"/>
<text x="332.1" y="452.7" font-size="7.3" text-anchor="end" fill="#231f20">8</text>
<line x1="339.4" y1="581.3" x2="443" y2="581.3" stroke="#231f20" stroke-width="1.2"/>
<rect x="359.8" y="565.2" width="22.2" height="16.1" fill="#231f20"/>
<line x1="370.9" y1="565.2" x2="370.9" y2="555" stroke="#231f20" stroke-width="1.1"/>
<line x1="365.65" y1="555" x2="376.15" y2="555" stroke="#231f20" stroke-width="1.1"/>
<rect x="401.3" y="479" width="22.9" height="102.3" fill="#231f20"/>
<line x1="413.2" y1="479" x2="413.2" y2="447.8" stroke="#231f20" stroke-width="1.1"/>
<line x1="408.7" y1="447.8" x2="417.7" y2="447.8" stroke="#231f20" stroke-width="1.1"/>
<polygon points="412.70,438.30 413.41,439.83 415.08,440.03 413.84,441.17 414.17,442.82 412.70,442.00 411.23,442.82 411.56,441.17 410.32,440.03 411.99,439.83" fill="#231f20" stroke="#231f20" stroke-width="0.3"/>
<text x="365" y="593.3" font-size="7.2" textLength="12.3" lengthAdjust="spacingAndGlyphs" fill="#231f20">IgG</text>
<text x="402" y="593.3" font-size="7.2" textLength="20" lengthAdjust="spacingAndGlyphs" fill="#231f20">Meis1</text>
<text transform="translate(308,514.2) rotate(-90)" x="0" y="0" font-size="7.6" text-anchor="middle" textLength="55.7" lengthAdjust="spacingAndGlyphs" fill="#231f20">RT-PCR for Hif-2α</text>
<text transform="translate(316.8,514.2) rotate(-90)" x="0" y="0" font-size="7.6" text-anchor="middle" textLength="54.7" lengthAdjust="spacingAndGlyphs" fill="#231f20">Promoter region</text>
</svg>
</body></html>
